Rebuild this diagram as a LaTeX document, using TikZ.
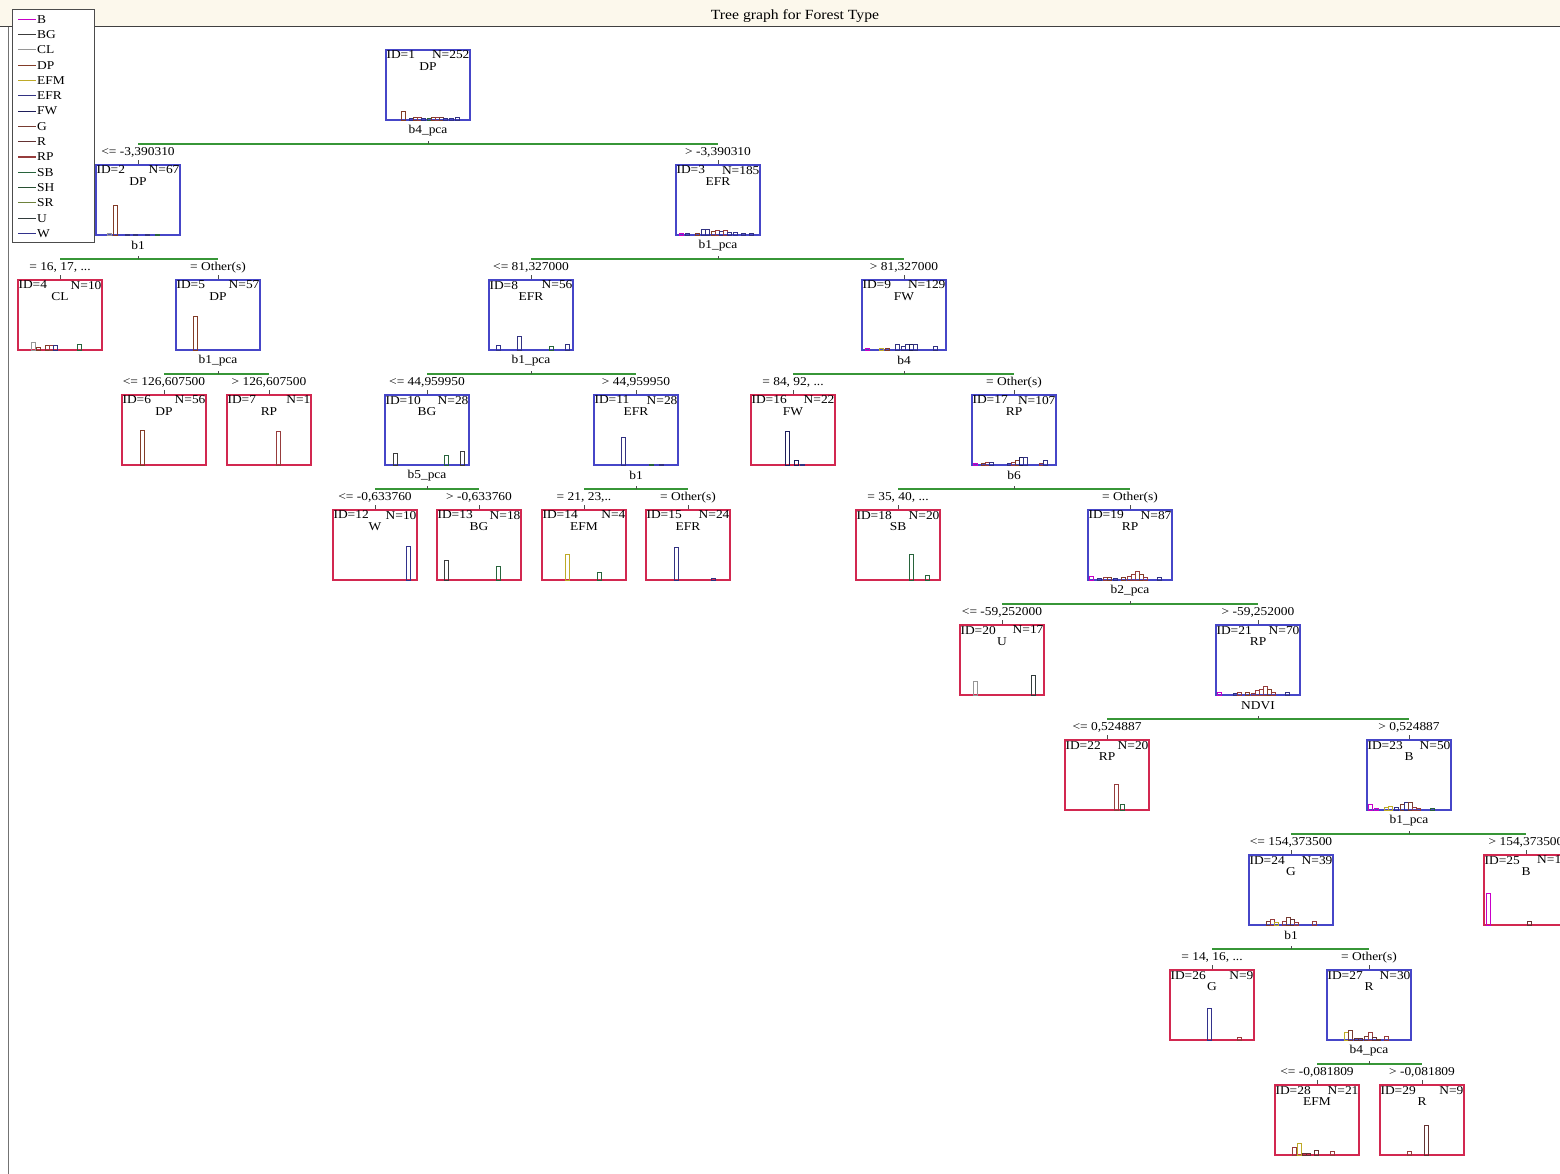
\documentclass[tikz,border=0pt]{standalone}
\usepackage{fontspec}
\setmainfont[FakeStretch=1.12]{Liberation Serif}
\usetikzlibrary{calc}

% class colours
\definecolor{cB}{RGB}{200,0,200}
\definecolor{cBG}{RGB}{60,60,60}
\definecolor{cCL}{RGB}{150,150,150}
\definecolor{cDP}{RGB}{130,60,40}
\definecolor{cEFM}{RGB}{190,170,40}
\definecolor{cEFR}{RGB}{50,50,130}
\definecolor{cFW}{RGB}{30,30,90}
\definecolor{cG}{RGB}{120,60,50}
\definecolor{cR}{RGB}{100,50,50}
\definecolor{cRP}{RGB}{150,60,60}
\definecolor{cSB}{RGB}{40,100,60}
\definecolor{cSH}{RGB}{40,80,50}
\definecolor{cSR}{RGB}{110,130,60}
\definecolor{cU}{RGB}{50,60,60}
\definecolor{cW}{RGB}{50,50,140}
% frame and line colours
\definecolor{innerblue}{RGB}{70,70,200}
\definecolor{leafred}{RGB}{210,40,80}
\definecolor{branchgreen}{RGB}{55,150,55}
\definecolor{titlebg}{RGB}{252,248,236}

\tikzset{
  txt/.style={font=\fontsize{12}{14}\selectfont, inner sep=0pt},
  idtxt/.style={txt, inner xsep=1pt, inner ysep=1.5pt},
  cls/.style={txt},
  innerbox/.style={draw=innerblue, line width=1.3pt, rectangle, minimum width=84pt, minimum height=70pt, inner sep=0pt},
  leafbox/.style={draw=leafred, line width=1.3pt, rectangle, minimum width=84pt, minimum height=70pt, inner sep=0pt},
  bar/.style={line width=0.9pt},
  conn/.style={draw=branchgreen, line width=1.9pt},
  tick/.style={draw=black!70, line width=0.7pt},
}

% tree node: id, centre x, top y, N, class, frame style, histogram bars (offset/height/colour)
\newcommand\tnode[7]{%
  \node[#6] (n#1) at (#2,#3+35) {};
  \node[idtxt, anchor=north west] (id#1) at (n#1.north west) {ID=#1};
  \node[idtxt, anchor=north east] (nn#1) at (n#1.north east) {N=#4};
  \node[cls] (c#1) at ($(n#1.north)+(0,17)$) {#5};
  \foreach \bx/\bh/\bc in {#7} {\draw[bar, draw=\bc] (n#1.south west) ++(\bx,0) rectangle ++(4,-\bh);}
}
% splitting variable under a node
\newcommand\splitvar[2]{\node[txt] (v#1) at ($(n#1.south)+(0,10)$) {#2};}
% condition above a child node
\newcommand\edgelab[2]{\node[txt] (e#1) at ($(n#1.north)+(0,-12)$) {#2};}
% branch from a parent to its two children
\newcommand\branch[3]{%
  \coordinate (j#1) at ($(n#1.south)+(0,23)$);
  \draw[conn] (n#2.north |- j#1) -- (n#3.north |- j#1);
  \draw[tick] (j#1) -- ++(0,-3);
  \draw[tick] (n#2.north) -- ++(0,-4);
  \draw[tick] (n#3.north) -- ++(0,-4);
}

\begin{document}
\begin{tikzpicture}[x=1pt, y=-1pt]
\useasboundingbox (0,0) rectangle (1560,1174);
\clip (0,0) rectangle (1560,1174);
\fill[white] (0,0) rectangle (1560,1174);

% title bar
\fill[titlebg] (0,0) rectangle (1560,27);
\draw[black!75, line width=1pt] (0,27) -- (1560,27);
\node[font=\fontsize{14}{16}\selectfont, inner sep=0pt] (title) at (795,16) {Tree graph for Forest Type};
\draw[black!55, line width=1pt] (8,27) -- (8,1174);

% legend
\draw[black!70, line width=1pt, fill=white] (12,10) rectangle (94,243);
\foreach \lab [count=\i] in {B,BG,CL,DP,EFM,EFR,FW,G,R,RP,SB,SH,SR,U,W} {
  \draw[draw=c\lab, line width=1.1pt] (18,{4+\i*15.3}) -- ++(18,0);
  \node[txt, anchor=west] (leg\i) at (37,{4+\i*15.3}) {\lab};
}

% nodes
\tnode{1}{428}{50}{252}{DP}{innerbox}{16/9/cDP, 24/2/cEFR, 28/3/cDP, 32/3/cRP, 36/2/cEFR, 42/2/cSB, 46/3/cDP, 50/3/cRP, 54/3/cG, 58/2/cEFR, 64/2/cW, 70/3/cEFR}
\tnode{2}{138}{165}{67}{DP}{innerbox}{12/2/cCL, 18/30/cDP, 30/1/cEFR, 38/1/cEFR, 50/1/cEFR, 60/1/cSB}
\tnode{3}{718}{165}{185}{EFR}{innerbox}{4/2/cB, 10/2/cEFR, 20/2/cDP, 26/6/cEFR, 30/6/cEFR, 36/4/cDP, 40/5/cRP, 44/4/cEFR, 48/5/cRP, 52/3/cEFR, 58/3/cW, 66/2/cEFR, 74/2/cEFR}
\tnode{4}{60}{280}{10}{CL}{leafbox}{14/8/cCL, 19/3/cDP, 28/5/cDP, 32/5/cRP, 36/5/cEFR, 60/6/cSB}
\tnode{5}{218}{280}{57}{DP}{innerbox}{18/34/cDP}
\tnode{8}{531}{280}{56}{EFR}{innerbox}{8/5/cW, 29/14/cEFR, 61/4/cSB, 77/6/cEFR}
\tnode{9}{904}{280}{129}{FW}{innerbox}{4/2/cB, 18/2/cEFM, 24/2/cDP, 34/6/cEFR, 40/4/cEFR, 44/6/cEFR, 48/6/cFW, 52/6/cEFR, 72/4/cEFR}
\tnode{6}{164}{395}{56}{DP}{leafbox}{19/35/cDP}
\tnode{7}{269}{395}{1}{RP}{leafbox}{50/34/cRP}
\tnode{10}{427}{395}{28}{BG}{innerbox}{9/12/cBG, 60/10/cSB, 76/14/cBG}
\tnode{11}{636}{395}{28}{EFR}{innerbox}{28/28/cEFR, 56/1/cSB, 66/1/cEFR}
\tnode{16}{793}{395}{22}{FW}{leafbox}{35/34/cFW, 44/5/cFW, 50/1/cEFR}
\tnode{17}{1014}{395}{107}{RP}{innerbox}{2/2/cB, 10/2/cDP, 14/3/cRP, 18/3/cEFR, 36/2/cEFR, 40/3/cRP, 44/5/cDP, 48/8/cFW, 52/8/cEFR, 68/2/cRP, 72/5/cEFR}
\tnode{12}{375}{510}{10}{W}{leafbox}{74/34/cW}
\tnode{13}{479}{510}{18}{BG}{leafbox}{8/20/cBG, 60/14/cSB}
\tnode{14}{584}{510}{4}{EFM}{leafbox}{24/26/cEFM, 56/8/cSB}
\tnode{15}{688}{510}{24}{EFR}{leafbox}{29/33/cEFR, 66/2/cEFR}
\tnode{18}{898}{510}{20}{SB}{leafbox}{54/26/cSB, 70/5/cSB}
\tnode{19}{1130}{510}{87}{RP}{innerbox}{2/4/cB, 10/2/cEFR, 16/3/cRP, 20/3/cDP, 26/2/cEFR, 34/3/cDP, 40/4/cRP, 44/6/cRP, 48/9/cRP, 52/6/cDP, 56/3/cRP, 70/3/cEFR}
\tnode{20}{1002}{625}{17}{U}{leafbox}{14/14/cCL, 72/20/cU}
\tnode{21}{1258}{625}{70}{RP}{innerbox}{2/3/cB, 18/2/cEFR, 22/3/cRP, 30/3/cDP, 36/2/cRP, 40/5/cRP, 44/6/cRP, 48/9/cRP, 52/6/cDP, 56/3/cRP, 70/3/cEFR}
\tnode{22}{1107}{740}{20}{RP}{leafbox}{50/26/cRP, 56/6/cSB}
\tnode{23}{1409}{740}{50}{B}{innerbox}{2/6/cB, 8/2/cB, 18/3/cEFM, 22/4/cEFM, 28/3/cEFR, 34/6/cG, 38/8/cEFR, 42/8/cG, 46/3/cRP, 50/2/cRP, 64/2/cSB}
\tnode{24}{1291}{855}{39}{G}{innerbox}{18/4/cG, 22/6/cRP, 26/3/cEFM, 34/4/cRP, 38/8/cG, 42/6/cR, 46/3/cRP, 64/4/cRP}
\tnode{25}{1526}{855}{11}{B}{leafbox}{3/32/cB, 44/4/cR}
\tnode{26}{1212}{970}{9}{G}{leafbox}{38/32/cW, 68/3/cRP}
\tnode{27}{1369}{970}{30}{R}{innerbox}{18/8/cEFM, 22/10/cG, 28/2/cR, 32/2/cR, 38/4/cG, 42/8/cRP, 46/3/cR, 50/1/cR, 58/4/cRP}
\tnode{28}{1317}{1085}{21}{EFM}{leafbox}{18/8/cRP, 23/12/cEFM, 28/2/cR, 32/2/cR, 40/5/cR, 56/4/cRP}
\tnode{29}{1422}{1085}{9}{R}{leafbox}{28/4/cRP, 45/30/cR}

% splitting variables
\splitvar{1}{b4\_pca}
\splitvar{2}{b1}
\splitvar{3}{b1\_pca}
\splitvar{5}{b1\_pca}
\splitvar{8}{b1\_pca}
\splitvar{9}{b4}
\splitvar{10}{b5\_pca}
\splitvar{11}{b1}
\splitvar{17}{b6}
\splitvar{19}{b2\_pca}
\splitvar{21}{NDVI}
\splitvar{23}{b1\_pca}
\splitvar{24}{b1}
\splitvar{27}{b4\_pca}

% branches
\branch{1}{2}{3}
\branch{2}{4}{5}
\branch{3}{8}{9}
\branch{5}{6}{7}
\branch{8}{10}{11}
\branch{9}{16}{17}
\branch{10}{12}{13}
\branch{11}{14}{15}
\branch{17}{18}{19}
\branch{19}{20}{21}
\branch{21}{22}{23}
\branch{23}{24}{25}
\branch{24}{26}{27}
\branch{27}{28}{29}

% split conditions
\edgelab{2}{<= -3,390310}
\edgelab{3}{> -3,390310}
\edgelab{4}{= 16, 17, ...}
\edgelab{5}{= Other(s)}
\edgelab{8}{<= 81,327000}
\edgelab{9}{> 81,327000}
\edgelab{6}{<= 126,607500}
\edgelab{7}{> 126,607500}
\edgelab{10}{<= 44,959950}
\edgelab{11}{> 44,959950}
\edgelab{16}{= 84, 92, ...}
\edgelab{17}{= Other(s)}
\edgelab{12}{<= -0,633760}
\edgelab{13}{> -0,633760}
\edgelab{14}{= 21, 23,..}
\edgelab{15}{= Other(s)}
\edgelab{18}{= 35, 40, ...}
\edgelab{19}{= Other(s)}
\edgelab{20}{<= -59,252000}
\edgelab{21}{> -59,252000}
\edgelab{22}{<= 0,524887}
\edgelab{23}{> 0,524887}
\edgelab{24}{<= 154,373500}
\edgelab{25}{> 154,373500}
\edgelab{26}{= 14, 16, ...}
\edgelab{27}{= Other(s)}
\edgelab{28}{<= -0,081809}
\edgelab{29}{> -0,081809}
\end{tikzpicture}
\end{document}
